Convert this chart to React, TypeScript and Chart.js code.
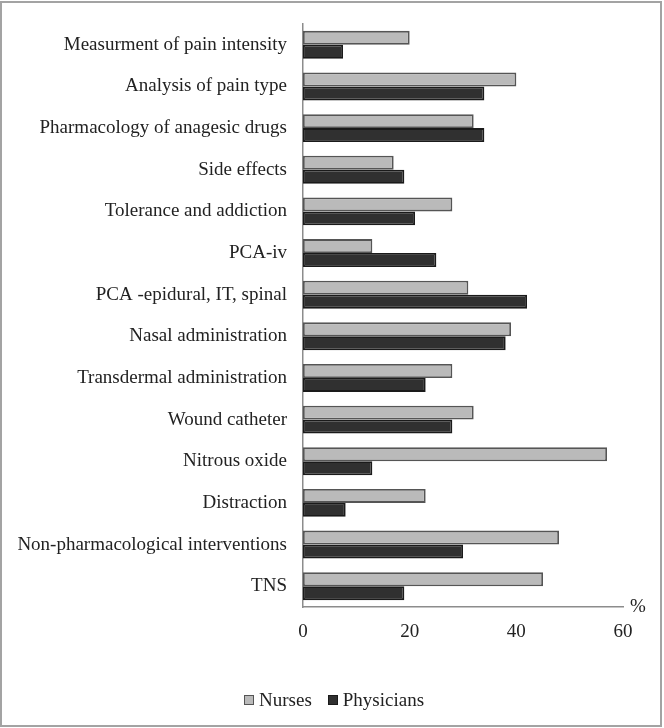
import React, { useEffect, useRef } from 'react';
import { Chart, registerables } from 'chart.js';

Chart.register(...registerables);

const categories = [
  'Measurment of pain intensity',
  'Analysis of pain type',
  'Pharmacology of anagesic drugs',
  'Side effects',
  'Tolerance and addiction',
  'PCA-iv',
  'PCA -epidural, IT, spinal',
  'Nasal administration',
  'Transdermal administration',
  'Wound catheter',
  'Nitrous oxide',
  'Distraction',
  'Non-pharmacological interventions',
  'TNS',
];
const nurses = [20, 40, 32, 17, 28, 13, 31, 39, 28, 32, 57, 23, 48, 45];
const physicians = [7.5, 34, 34, 19, 21, 25, 42, 38, 23, 28, 13, 8, 30, 19];
const seriesNames = ['Nurses', 'Physicians'];
const xMin = 0;
const xMax = 60;
const xStep = 20;
const axisUnit = '%';

const FONT = 'Liberation Serif, Times New Roman, serif';
const TEXT = '#222222';
const AXIS = '#8c8c8c';
const FILLS = ['#bababa', '#303030'];
const BORDERS = ['#555555', '#1a1a1a'];

const unitPlugin = {
  id: 'unitLabel',
  afterDraw(chart: any) {
    const x = chart.scales.x;
    const ctx = chart.ctx;
    ctx.save();
    ctx.font = `19px ${FONT}`;
    ctx.fillStyle = TEXT;
    ctx.textAlign = 'left';
    ctx.textBaseline = 'middle';
    ctx.fillText(axisUnit, x.right + 7, x.top);
    ctx.restore();
  },
};

export default function App() {
  const ref = useRef<HTMLCanvasElement | null>(null);

  useEffect(() => {
    if (!ref.current) return;
    const chart = new Chart(ref.current, {
      type: 'bar',
      data: {
        labels: categories,
        datasets: [nurses, physicians].map((d, i) => ({
          label: seriesNames[i],
          data: d,
          backgroundColor: FILLS[i],
          borderColor: BORDERS[i],
          borderWidth: 1.8,
          borderSkipped: false,
          categoryPercentage: 0.67,
          barPercentage: 1,
        })),
      },
      options: {
        indexAxis: 'y',
        responsive: false,
        animation: false,
        layout: { padding: { top: 24, right: 41, left: 0, bottom: 54.5 } },
        scales: {
          x: {
            min: xMin,
            max: xMax,
            ticks: { stepSize: xStep, padding: 14, color: TEXT, font: { family: FONT, size: 19 } },
            grid: { display: false, drawTicks: false },
            border: { display: true, color: AXIS, width: 1.5 },
            afterFit: (s: any) => {
              s.height = 66.5;
            },
          },
          y: {
            ticks: { padding: 16, color: TEXT, font: { family: FONT, size: 19 } },
            grid: { display: false, drawTicks: false },
            border: { display: true, color: AXIS, width: 1.5 },
            afterFit: (s: any) => {
              s.width = 303;
              s.paddingTop = 0;
              s.paddingBottom = 0;
            },
          },
        },
        plugins: {
          legend: { display: false },
          tooltip: { enabled: false },
        },
      },
      plugins: [unitPlugin],
    } as any);
    return () => chart.destroy();
  }, []);

  return (
    <div>
      <canvas
        ref={ref}
        width={664}
        height={728}
        style={{ position: 'fixed', left: 0, top: 0, width: 664, height: 728, background: '#fff' }}
      />
      <div
        style={{
          position: 'fixed',
          left: 244,
          top: 690,
          height: 20,
          display: 'flex',
          alignItems: 'center',
          fontFamily: FONT,
          fontSize: 19,
          lineHeight: '20px',
          color: TEXT,
          whiteSpace: 'nowrap',
        }}
      >
        {seriesNames.map((name, i) => (
          <span key={name} style={{ display: 'flex', alignItems: 'center', marginRight: i === 0 ? 16 : 0 }}>
            <span
              style={{
                display: 'inline-block',
                width: 10,
                height: 10,
                boxSizing: 'border-box',
                background: FILLS[i],
                border: `1.5px solid ${BORDERS[i]}`,
                marginRight: 5,
              }}
            />
            <span>{name}</span>
          </span>
        ))}
      </div>
      <div
        style={{
          position: 'fixed',
          left: 0,
          top: 1,
          width: 662,
          height: 726,
          boxSizing: 'border-box',
          border: '2px solid #a3a3a3',
          pointerEvents: 'none',
        }}
      />
    </div>
  );
}
